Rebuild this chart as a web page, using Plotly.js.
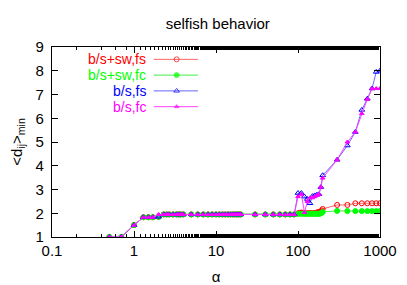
<!DOCTYPE html>
<html>
<head>
<meta charset="utf-8">
<script src="https://cdn.plot.ly/plotly-3.0.1.min.js"></script>
<style>html,body{margin:0;padding:0;background:#fff;}#chart{width:407px;height:285px;}</style>
</head>
<body>
<div id="chart"></div>
<script>
// shared low-alpha grid
const alphaLow = [0.5,0.7,1,1.3,1.5,1.7,2,2.3,2.5,2.7,3,3.3,3.5,3.7,4,5,6,7,8,9,10,11,12,13,14,15,16,17,18,19,20,30,40,50,60,70,80,90];
const dLowA = [1,1,1.5,1.83,1.83,1.83,1.85,1.95,1.95,1.95,1.95,1.95,1.95,1.95,1.95,1.95,1.95,1.95,1.95,1.95,1.95,1.95,1.95,1.95,1.95,1.95,1.95,1.95,1.95,1.95,1.95,1.95,1.95,1.95,1.95,1.95,1.95,1.95];
const dLowB = [1,1,1.5,1.83,1.83,1.83,1.95,1.95,1.95,1.95,1.95,1.95,1.95,1.95,1.95,1.95,1.95,1.95,1.95,1.95,1.95,1.95,1.95,1.95,1.95,1.95,1.95,1.95,1.95,1.95,1.95,1.95,1.95,1.95,1.95,1.95,1.95,1.95];

// high-alpha, small-world series
const alphaSW = [100,105,110,115,120,125,130,135,140,145,150,155,160,165,170,175,180,185,190,195,200,300,400,500,600,700,800,900,1000];
const swFs = [2.0,2.02,2.03,2.02,2.0,2.0,2.0,2.0,2.0,2.0,2.0,2.0,2.0,2.02,2.03,2.04,2.05,2.06,2.08,2.12,2.18,2.35,2.35,2.42,2.42,2.42,2.42,2.42,2.42];
const swFc = [1.98,1.98,1.98,1.98,1.98,1.98,1.98,1.98,1.98,1.98,1.98,1.98,1.98,1.98,1.98,1.98,1.98,1.98,2.0,2.02,2.05,2.1,2.09,2.09,2.09,2.09,2.09,2.09,2.09];

// high-alpha, b/s series
const alphaBS = [100,110,120,130,140,150,160,170,180,190,200,300,400,500,600,700,800,900,1000];
const bsFs = [2.85,2.85,2.7,2.6,2.42,2.72,2.75,2.78,2.8,3.1,3.6,4.25,4.85,5.42,6.35,6.82,7.25,7.95,8.0];
const bsFc = [2.7,2.8,2.03,2.5,2.65,2.65,2.7,2.75,2.8,3.1,3.48,4.25,5.0,5.42,6.2,6.8,7.25,7.25,7.25];

const yTickVals = [1,2,3,4,5,6,7,8,9];
const yTickText = ['1\u00a0','2\u00a0','3\u00a0','4\u00a0','5\u00a0','6\u00a0','7\u00a0','8\u00a0','9\u00a0'];

const seriesNames = ['b/s+sw,fs','b/s+sw,fc','b/s,fs','b/s,fc'];
const seriesColors = ['#ff0000','#00ff00','#0000ff','#ff00ff'];
const lineColors = ['#ff6666','#44ee44','#6666ff','#ff44ff'];
const symbols = ['circle-open','circle','triangle-up-open','triangle-up'];
const sizes = [5,5,5,4];

const xs = [alphaLow.concat(alphaSW), alphaLow.concat(alphaSW), alphaLow.concat(alphaBS), alphaLow.concat(alphaBS)];
const ys = [dLowA.concat(swFs), dLowA.concat(swFc), dLowA.concat(bsFs), dLowB.concat(bsFc)];

const traces = [];
for (let i = 0; i < 4; i++) {
  traces.push({
    x: xs[i], y: ys[i], type: 'scatter', mode: 'lines+markers',
    line: {color: lineColors[i], width: 1},
    marker: {symbol: symbols[i], size: sizes[i], color: seriesColors[i], line: {color: seriesColors[i], width: 1}},
    showlegend: false, cliponaxis: true
  });
}
// legend samples on a hidden overlay axis
const legRowY = [0.935, 0.852, 0.769, 0.686];
for (let i = 0; i < 4; i++) {
  traces.push({
    x: [0.31, 0.38, 0.445], y: [legRowY[i], legRowY[i], legRowY[i]],
    xaxis: 'x2', yaxis: 'y2', type: 'scatter', mode: 'lines+markers',
    line: {color: lineColors[i], width: 1},
    marker: {symbol: symbols[i], size: [0, sizes[i], 0], color: seriesColors[i], line: {color: seriesColors[i], width: [0,1,0]}},
    showlegend: false, hoverinfo: 'skip'
  });
}

const annotations = [];
for (let i = 0; i < 4; i++) {
  annotations.push({
    xref: 'paper', yref: 'paper', x: 0.29, y: legRowY[i], xanchor: 'right', yanchor: 'middle',
    text: seriesNames[i], showarrow: false, borderpad: 0,
    font: {family: 'Liberation Sans, Arial, sans-serif', size: 14, color: seriesColors[i]}
  });
}

const layout = {
  width: 407, height: 285,
  margin: {l: 52, r: 27, t: 47, b: 48},
  paper_bgcolor: '#fff', plot_bgcolor: '#fff',
  font: {family: 'Liberation Sans, Arial, sans-serif', size: 15, color: '#000'},
  title: {text: 'selfish behavior', x: 0.535, xanchor: 'center', y: 0.915, yanchor: 'middle', font: {size: 15}},
  xaxis: {
    type: 'log', range: [-1, 3], showgrid: false, zeroline: false,
    showline: true, linecolor: '#000', linewidth: 1, mirror: 'ticks',
    ticks: 'inside', ticklen: 6, tickcolor: '#000',
    tickvals: [0.1, 1, 10, 100, 1000], ticktext: ['0.1', '1', '10', '100', '1000'],
    tickfont: {size: 15},
    minor: {ticks: 'inside', ticklen: 3, tickcolor: '#000', showgrid: false},
    title: {text: 'α', standoff: 14, font: {size: 15}}
  },
  yaxis: {
    range: [1, 9], showgrid: false, zeroline: false,
    showline: true, linecolor: '#000', linewidth: 1, mirror: 'ticks',
    ticks: 'inside', ticklen: 6, tickcolor: '#000',
    tickvals: yTickVals, ticktext: yTickText,
    tickfont: {size: 15},
    title: {text: '&lt;d<sub>ij</sub>&gt;<sub>min</sub>', standoff: 9, font: {size: 15}}
  },
  xaxis2: {overlaying: 'x', range: [0, 1], visible: false, fixedrange: true},
  yaxis2: {overlaying: 'y', range: [0, 1], visible: false, fixedrange: true},
  annotations: annotations,
  showlegend: false
};

Plotly.newPlot('chart', traces, layout, {displayModeBar: false, staticPlot: true});
</script>
</body>
</html>
